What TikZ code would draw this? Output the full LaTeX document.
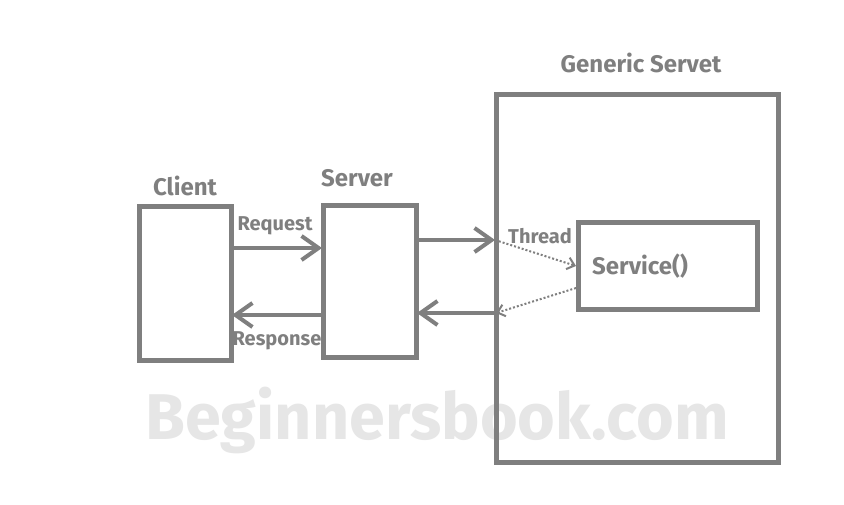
\documentclass[tikz,border=0pt]{standalone}
\usepackage{fontspec}
\setmainfont{Fira Sans}
\usetikzlibrary{arrows.meta}
\definecolor{ink}{HTML}{7F7F7F}
\definecolor{wm}{HTML}{E6E6E6}
\begin{document}
\begin{tikzpicture}[x=1pt,y=-1pt,
  box/.style={draw=ink,line width=5pt},
  lbl/.style={text=ink,font=\bfseries\fontsize{24}{28}\selectfont,inner sep=0pt},
  slbl/.style={text=ink,font=\bfseries\fontsize{20}{24}\selectfont,inner sep=0pt},
  flow/.style={draw=ink,line width=4pt,-{Straight Barb[length=17pt,width=24pt,line width=4pt]}},
  dflow/.style={draw=ink,line width=2pt,dotted,-{Straight Barb[length=7pt,width=12pt,line width=2pt]}}]
\useasboundingbox[fill=white] (0,0) rectangle (844,505);
\node[text=wm,font=\bfseries,inner sep=0pt] (wm) at (437,420) {\resizebox{583pt}{!}{Beginnersbook.com}};
\draw[box] (139,207) rectangle (231,360);
\draw[box] (323,206) rectangle (416,357);
\draw[box] (496,95) rectangle (778,462);
\draw[box] (578,223) rectangle (757,310);
\coordinate (c1) at (233,248);
\coordinate (s1) at (322,248);
\coordinate (c2) at (232,315);
\coordinate (s2) at (321,315);
\coordinate (s3) at (418,240);
\coordinate (g1) at (495,240);
\coordinate (s4) at (417,313);
\coordinate (g2) at (496,313);
\coordinate (v1) at (576,266);
\coordinate (v2) at (576,288);
\draw[flow] (c1) -- (s1);
\draw[flow] (s2) -- (c2);
\draw[flow] (s3) -- (g1);
\draw[flow] (g2) -- (s4);
\draw[dflow] (g1) -- (v1);
\draw[dflow] (v2) -- (g2);
\node[lbl] (client) at (185,186) {Client};
\node[lbl] (server) at (357,178) {Server};
\node[lbl] (gs) at (641,63) {Generic Servet};
\node[slbl] (req) at (275,226) {Request};
\node[slbl] (resp) at (277,341) {Response};
\node[slbl] (thr) at (540,236) {Thread};
\node[lbl] (svc) at (640,266) {Service()};
\end{tikzpicture}
\end{document}
